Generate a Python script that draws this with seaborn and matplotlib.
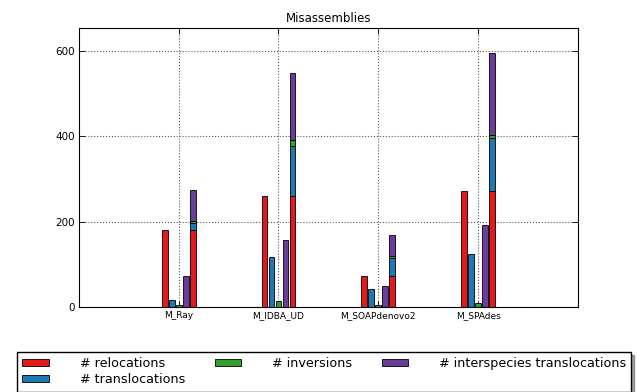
import seaborn as sns
import matplotlib.pyplot as plt
import numpy as np

assemblies = ["M_Ray", "M_IDBA_UD", "M_SOAPdenovo2", "M_SPAdes"]
relocations = [181, 261, 72, 271]
translocations = [17, 116, 43, 124]
inversions = [4, 15, 5, 9]
interspecies = [72, 156, 48, 191]

labels = ["# relocations", "# translocations", "# inversions",
          "# interspecies translocations"]
colors = ["#E31A1C", "#1F78B4", "#33A02C", "#6A3D9A"]

sns.set_theme(style="white")
plt.rcParams["font.family"] = ["DejaVu Sans"]
plt.rcParams["text.color"] = "black"
plt.rcParams["xtick.color"] = "black"
plt.rcParams["ytick.color"] = "black"

fig = plt.figure(figsize=(6.37, 3.92), dpi=100)
ax = fig.add_axes([0.124, 0.217, 0.783, 0.712])

series = [relocations, translocations, inversions, interspecies]
step = 0.07
width = 0.058
x = np.arange(1, len(assemblies) + 1)

handles = []
for i, (vals, c, lab) in enumerate(zip(series, colors, labels)):
    h = ax.bar(x + (i - 2) * step, vals, width=width, color=c,
               edgecolor="black", linewidth=0.6, label=lab)
    handles.append(h)

# stacked total bar
bottom = np.zeros(len(assemblies))
for vals, c in zip(series, colors):
    ax.bar(x + 2 * step, vals, width=width, bottom=bottom, color=c,
           edgecolor="black", linewidth=0.6)
    bottom += np.array(vals)

ax.set_xlim(0, 5)
ax.set_ylim(0, bottom.max() * 1.1)
ax.set_xticks(x)
ax.set_xticklabels(assemblies, fontsize=6.5)
ax.set_yticks([0, 200, 400, 600])
ax.tick_params(axis="y", labelsize=7.5)
ax.tick_params(direction="in", length=4, width=0.6, top=True, right=True,
               bottom=True, left=True, color="black", pad=3)
ax.grid(True, linestyle=":", color="0.35", linewidth=0.8)
ax.set_axisbelow(True)
for s in ax.spines.values():
    s.set_color("black")
    s.set_linewidth(0.8)
ax.set_title("Misassemblies", fontsize=8.5, pad=4)

fig.legend(handles=handles, labels=labels, ncol=3, loc="upper left",
           bbox_to_anchor=(0.017, 0.118), fontsize=9.2, frameon=True,
           fancybox=False, shadow=True, edgecolor="black",
           handlelength=2.1, handleheight=0.45, handletextpad=2.4,
           columnspacing=2.3, labelspacing=0.25, borderpad=0.4,
           framealpha=1)

fig.savefig("out.png", dpi=100)
